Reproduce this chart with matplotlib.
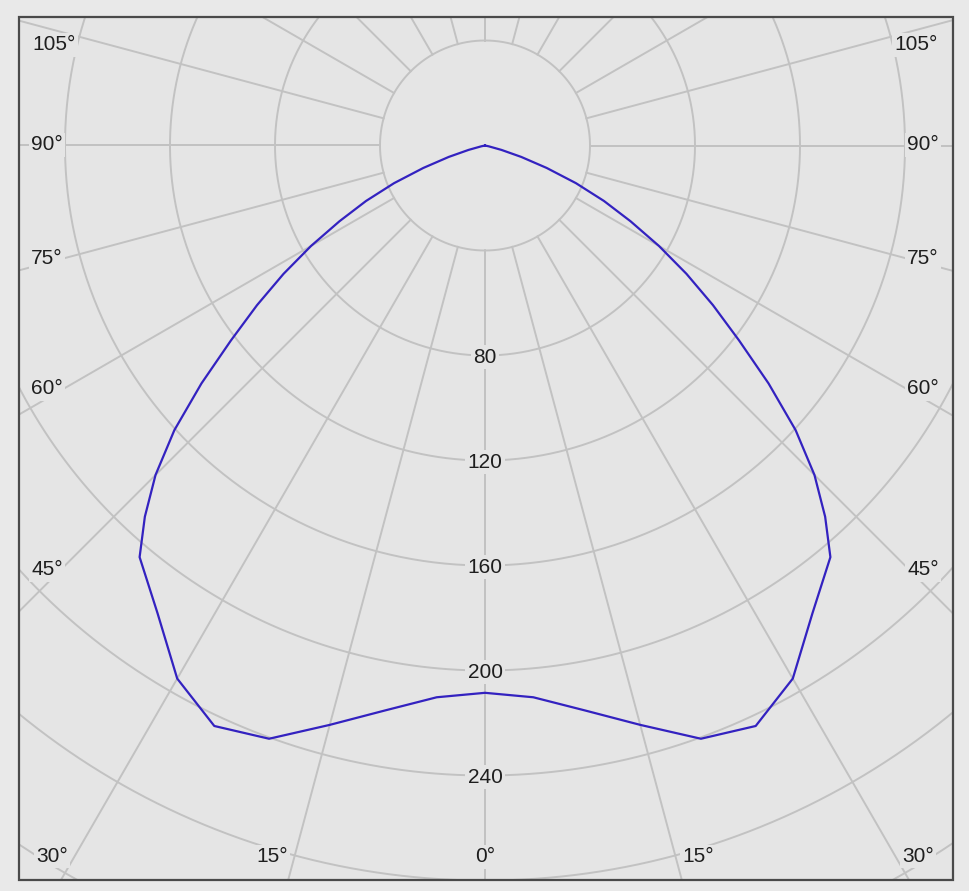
import numpy as np
import matplotlib
matplotlib.use("Agg")
import matplotlib.pyplot as plt
from matplotlib.patches import Rectangle

# ---------------- data ----------------
angles_deg = [0, 5, 10, 15, 20, 25, 30, 35, 40, 42.5, 45, 47.5, 50, 52.5, 55, 57.5,
              60, 62.5, 65, 67.5, 70, 72.5, 75, 77.5, 80, 85, 90]
intensity = [208.5, 211, 218.5, 228.5, 240.5, 244, 234.5, 217.5, 204.7, 191.8, 177.5,
             160.5, 141, 122, 106, 91, 76.5, 62.5, 50, 37.5, 25, 14.5, 6.5, 1.5, 0, 0, 0]
ring_values = [40, 80, 120, 160, 200, 240, 280, 320, 360]
ring_labels = [80, 120, 160, 200, 240]
spoke_angles = list(range(0, 360, 15))
angle_labels = [0, 15, 30, 45, 60, 75, 90, 105]

# ---------------- style / layout ----------------
W, H = 969, 891
outer_bg = "#e9e9e9"
inner_bg = "#e5e5e5"
grid_col = "#c2c2c2"
curve_col = "#3322c0"
text_col = "#1e1e1e"
font = "Liberation Sans"
fs = 15

cx, cy = 485.0, 145.5          # centre in pixels (from top)
px_per_unit = 2.625
R = 400.0

fig = plt.figure(figsize=(W / 100, H / 100), dpi=100, facecolor=outer_bg)

half = R * px_per_unit
ax = fig.add_axes([(cx - half) / W, (H - cy - half) / H, 2 * half / W, 2 * half / H],
                  projection="polar")
ax.set_theta_zero_location("S")
ax.set_ylim(0, R)
ax.set_xticks([])
ax.set_yticks([])
ax.grid(False)
ax.spines["polar"].set_visible(False)
ax.patch.set_visible(False)

# frame rectangle (pixels)
fx0, fx1, fy0, fy1 = 19, 953, 17, 880
rect_args = ((fx0 / W, (H - fy1) / H), (fx1 - fx0) / W, (fy1 - fy0) / H)
fig.add_artist(Rectangle(*rect_args, transform=fig.transFigure,
                         facecolor=inner_bg, edgecolor="none", zorder=-1))
clip_rect = Rectangle(*rect_args, transform=fig.transFigure)

def clip(artists):
    for a in artists:
        a.set_clip_path(clip_rect)

# rings
tt = np.linspace(0, 2 * np.pi, 721)
for rv in ring_values:
    clip(ax.plot(tt, np.full_like(tt, rv), color=grid_col, lw=1.4, zorder=1))

# spokes (start at the innermost ring)
for a in spoke_angles:
    th = np.deg2rad(a)
    clip(ax.plot([th, th], [ring_values[0], R], color=grid_col, lw=1.4, zorder=1))

# ring labels along 0 deg
for rv in ring_labels:
    ax.text(0, rv + 0.6, str(rv), ha="center", va="center", fontsize=fs, family=font,
            color=text_col, zorder=3,
            bbox=dict(boxstyle="square,pad=0.12", fc=inner_bg, ec="none"))

# curve (mirrored C-plane)
th_right = np.deg2rad(angles_deg)
th_full = np.concatenate([-th_right[::-1], th_right[1:]])
r_full = np.concatenate([np.array(intensity)[::-1], np.array(intensity)[1:]])
clip(ax.plot(th_full, r_full, color=curve_col, lw=1.6, zorder=4,
             solid_joinstyle="round"))

# angle labels at the frame edge (pixel offsets from centre)
label_pos = {105: (-431, 45), 90: (-438, 145), 75: (-438, 259), 60: (-438, 389),
             45: (-438, 569.5), 30: (-433, 856), 15: (-213, 857), 0: (0, 856.5)}
for a in angle_labels:
    dx, y = label_pos[a]
    xs = [cx] if a == 0 else [cx + dx, cx - dx]
    for x in xs:
        fig.text(x / W, 1 - y / H, f"{a}°", ha="center", va="center", fontsize=fs,
                 family=font, color=text_col, zorder=3,
                 bbox=dict(boxstyle="square,pad=0.12", fc=inner_bg, ec="none"))

# frame border
fig.add_artist(Rectangle(*rect_args, transform=fig.transFigure, fill=False,
                         edgecolor="#4a4a4a", lw=1.6, zorder=6))

fig.savefig("out.png", dpi=100, facecolor=outer_bg)
